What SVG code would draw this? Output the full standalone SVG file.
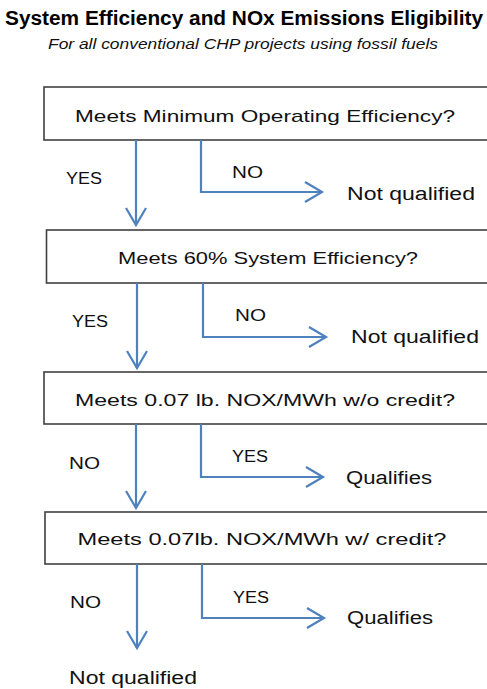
<svg xmlns="http://www.w3.org/2000/svg" width="487" height="689" viewBox="0 0 487 689">
<style>
.box{fill:#fff;stroke:#404040;stroke-width:1.6}
.t{font-family:"Liberation Sans",Arial,sans-serif;font-size:17px;fill:#111}
.q{text-anchor:middle}
.lbl{font-family:"Liberation Sans",Arial,sans-serif;font-size:16px;fill:#111}
.out{font-family:"Liberation Sans",Arial,sans-serif;font-size:18px;fill:#111}
.c{fill:none;stroke:#4F81BD;stroke-width:2.2}
</style>
<defs>
<marker id="arr" viewBox="0 0 24 24" markerWidth="24" markerHeight="24" refX="20" refY="12" orient="auto" markerUnits="userSpaceOnUse">
<path d="M3,2 L20,12 L3,22" fill="none" stroke="#4F81BD" stroke-width="2.2"/>
</marker>
</defs>
<rect width="487" height="689" fill="#fff"/>
<g id="title">
<text x="244" y="25" text-anchor="middle" font-family="Liberation Sans,Arial,sans-serif" font-weight="bold" font-size="19.5" fill="#000" textLength="478" lengthAdjust="spacingAndGlyphs">System Efficiency and NOx Emissions Eligibility</text>
<text x="243" y="49" text-anchor="middle" font-family="Liberation Sans,Arial,sans-serif" font-style="italic" font-size="15" fill="#111" textLength="390" lengthAdjust="spacingAndGlyphs">For all conventional CHP projects using fossil fuels</text>
</g>
<g id="q1">
<rect class="box" x="44" y="87" width="450" height="53"/>
<text class="t q" x="265" y="122" textLength="380" lengthAdjust="spacingAndGlyphs">Meets Minimum Operating Efficiency?</text>
</g>
<g id="q2">
<rect class="box" x="46.5" y="230" width="450" height="53"/>
<text class="t q" x="268" y="264" textLength="300" lengthAdjust="spacingAndGlyphs">Meets 60% System Efficiency?</text>
</g>
<g id="q3">
<rect class="box" x="44" y="372" width="450" height="52"/>
<text class="t q" x="265" y="406" textLength="380" lengthAdjust="spacingAndGlyphs">Meets 0.07 lb. NOX/MWh w/o credit?</text>
</g>
<g id="q4">
<rect class="box" x="45" y="512" width="450" height="52"/>
<text class="t q" x="262" y="545" textLength="369" lengthAdjust="spacingAndGlyphs">Meets 0.07lb. NOX/MWh w/ credit?</text>
</g>
<g id="out1"><text class="out" x="347" y="200" textLength="128" lengthAdjust="spacingAndGlyphs">Not qualified</text></g>
<g id="out2"><text class="out" x="351" y="343" textLength="128" lengthAdjust="spacingAndGlyphs">Not qualified</text></g>
<g id="out3"><text class="out" x="346" y="484" textLength="86" lengthAdjust="spacingAndGlyphs">Qualifies</text></g>
<g id="out4"><text class="out" x="347" y="624" textLength="86" lengthAdjust="spacingAndGlyphs">Qualifies</text></g>
<g id="out5"><text class="out" x="69" y="684" textLength="128" lengthAdjust="spacingAndGlyphs">Not qualified</text></g>
<g id="connectors">
<path class="c" d="M136,140 V225" marker-end="url(#arr)"/>
<path class="c" d="M201,140 V192 H322" marker-end="url(#arr)"/>
<path class="c" d="M137,283 V368" marker-end="url(#arr)"/>
<path class="c" d="M203,283 V337 H326" marker-end="url(#arr)"/>
<path class="c" d="M136,424 V508" marker-end="url(#arr)"/>
<path class="c" d="M201,424 V477 H323" marker-end="url(#arr)"/>
<path class="c" d="M137,564 V648" marker-end="url(#arr)"/>
<path class="c" d="M202,564 V618 H324" marker-end="url(#arr)"/>
<text class="lbl" x="66" y="184" textLength="36" lengthAdjust="spacingAndGlyphs">YES</text>
<text class="lbl" x="232" y="178" textLength="31" lengthAdjust="spacingAndGlyphs">NO</text>
<text class="lbl" x="72" y="327" textLength="36" lengthAdjust="spacingAndGlyphs">YES</text>
<text class="lbl" x="235" y="321" textLength="31" lengthAdjust="spacingAndGlyphs">NO</text>
<text class="lbl" x="69" y="469" textLength="31" lengthAdjust="spacingAndGlyphs">NO</text>
<text class="lbl" x="232" y="462" textLength="36" lengthAdjust="spacingAndGlyphs">YES</text>
<text class="lbl" x="70" y="608" textLength="31" lengthAdjust="spacingAndGlyphs">NO</text>
<text class="lbl" x="233" y="603" textLength="36" lengthAdjust="spacingAndGlyphs">YES</text>
</g>
</svg>
